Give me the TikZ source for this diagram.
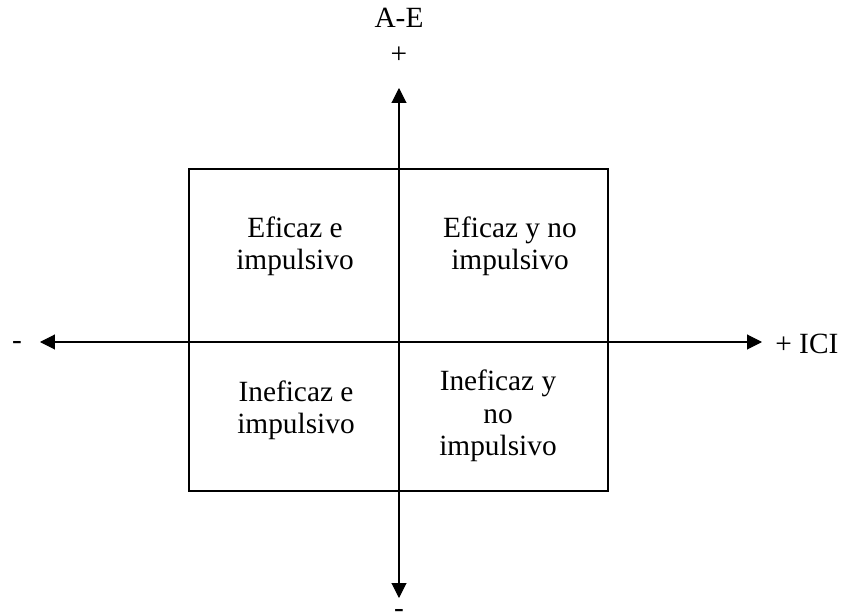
\documentclass[tikz,border=0pt]{standalone}
\usepackage{fontspec}
\setmainfont{Liberation Serif}
\usetikzlibrary{arrows.meta}

\tikzset{
  axis/.style={line width=0.6pt, -{Triangle[length=0.3cm,width=0.3cm]}},
  quad/.style={align=center, font=\fontsize{16.7}{18.4}\selectfont},
  lbl/.style={font=\fontsize{16.7}{18.4}\selectfont, inner sep=0pt}
}

\begin{document}
\begin{tikzpicture}
\useasboundingbox (-7.98,-5.46) rectangle (8.88,6.84);
% Quadrant frame
\draw[line width=1.2pt] (-4.2,-2.98) rectangle (4.18,3.46);
% Axis end points
\coordinate (o) at (0,0);
\coordinate (north) at (0,5.08);
\coordinate (south) at (0,-5.12);
\coordinate (west) at (-7.18,0);
\coordinate (east) at (7.26,0);
\draw[axis] (o) -- (north);
\draw[axis] (o) -- (south);
\draw[axis] (o) -- (west);
\draw[axis] (o) -- (east);
% Axis labels
\node[lbl, anchor=base] (ae) at (0,6.28) {A-E};
\node[lbl] (plusy) at (0,5.74) {+};
\node[lbl, anchor=base] (minusy) at (0,-5.5) {-};
\node[lbl, anchor=base] (minusx) at (-7.64,-0.14) {-};
\node[lbl, anchor=base west] (ici) at (7.52,-0.24) {+ ICI};
% Quadrants
\node[quad] (q2) at (-2.08,1.92) {Eficaz e\\impulsivo};
\node[quad] (q1) at (2.22,1.92) {Eficaz y no\\impulsivo};
\node[quad] (q3) at (-2.06,-1.36) {Ineficaz e\\impulsivo};
\node[quad] (q4) at (1.98,-1.48) {Ineficaz y\\no\\impulsivo};
\end{tikzpicture}
\end{document}
